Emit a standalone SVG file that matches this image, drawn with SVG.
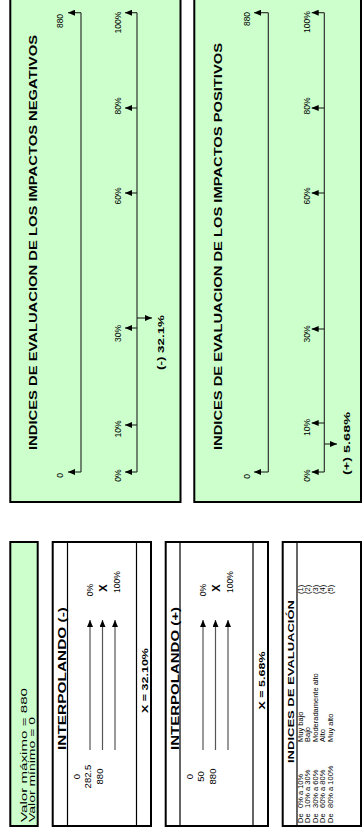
<svg xmlns="http://www.w3.org/2000/svg" width="363" height="828" viewBox="0 0 363 828">
<defs>
<marker id="ah" markerUnits="userSpaceOnUse" markerWidth="7" markerHeight="6" refX="7" refY="3" orient="auto"><path d="M0,0 L7,3 L0,6 z" fill="#000"/></marker>
<style>
.gbox{fill:#ccffcc;stroke:#000;stroke-width:2}
.wbox{fill:#fff;stroke:#000;stroke-width:2}
.div{stroke:#000;stroke-width:1.2}
.ax{stroke:#222;stroke-width:1.1;fill:none}
.tk{stroke:#222;stroke-width:1.1;fill:none;marker-end:url(#ah)}
.ia{stroke:#555;stroke-width:1.2;fill:none;marker-end:url(#ah)}
text{font-family:"Liberation Sans",Arial,sans-serif;fill:#000}
.ttl{font-size:11.5px;font-weight:bold;text-anchor:middle}
.lbl{font-size:8.5px;text-anchor:middle}
.res{font-size:9.5px;font-weight:bold;text-anchor:middle}
.nm{font-size:9.5px;text-anchor:middle}
.hd{font-size:11px;font-weight:bold;text-anchor:middle}
.row{font-size:7.5px}
</style>
</defs>

<g id="neg">
<rect class="gbox" x="10.3" y="-1" width="170.2" height="503"/>
<text class="ttl" transform="translate(37,242.5) rotate(-90)" textLength="415" lengthAdjust="spacingAndGlyphs">INDICES DE EVALUACION DE LOS IMPACTOS NEGATIVOS</text>
<path class="ax" d="M81,12.7 V472 M137,12.7 V472"/>
<text class="lbl" transform="translate(63,21) rotate(-90)">880</text>
<text class="lbl" transform="translate(63,475.5) rotate(-90)">0</text>
<text class="lbl" transform="translate(121,22.5) rotate(-90)">100%</text>
<text class="lbl" transform="translate(121,106) rotate(-90)">80%</text>
<text class="lbl" transform="translate(121,196) rotate(-90)">60%</text>
<text class="lbl" transform="translate(121,333.5) rotate(-90)">30%</text>
<text class="lbl" transform="translate(121,429) rotate(-90)">10%</text>
<text class="lbl" transform="translate(121,475.5) rotate(-90)">0%</text>
<text class="res" transform="translate(164,342.5) rotate(-90)" textLength="55" lengthAdjust="spacingAndGlyphs">(-) 32.1%</text>
</g>

<g id="pos">
<rect class="gbox" x="194.3" y="-1" width="166.7" height="503"/>
<text class="ttl" transform="translate(221.5,246.5) rotate(-90)" textLength="407" lengthAdjust="spacingAndGlyphs">INDICES DE EVALUACION DE LOS IMPACTOS POSITIVOS</text>
<path class="ax" d="M268.3,12.7 V472 M324.3,12.7 V472"/>
<text class="lbl" transform="translate(250,19) rotate(-90)">880</text>
<text class="lbl" transform="translate(250,476.5) rotate(-90)">0</text>
<text class="lbl" transform="translate(310,22) rotate(-90)">100%</text>
<text class="lbl" transform="translate(310,106) rotate(-90)">80%</text>
<text class="lbl" transform="translate(310,196) rotate(-90)">60%</text>
<text class="lbl" transform="translate(310,334) rotate(-90)">30%</text>
<text class="lbl" transform="translate(310,427.5) rotate(-90)">10%</text>
<text class="lbl" transform="translate(310,475.5) rotate(-90)">0%</text>
<text class="res" transform="translate(350,443.5) rotate(-90)" textLength="63" lengthAdjust="spacingAndGlyphs">(+) 5.68%</text>
</g>

<g id="valor">
<rect class="gbox" x="10.3" y="542" width="27.4" height="284"/>
<text class="nm" style="text-anchor:start" transform="translate(26.5,822) rotate(-90)" textLength="134" lengthAdjust="spacingAndGlyphs">Valor máximo = 880</text>
<text class="nm" style="text-anchor:start" transform="translate(35.3,822) rotate(-90)" textLength="105" lengthAdjust="spacingAndGlyphs">Valor mínimo = 0</text>
</g>

<g id="interp-neg">
<rect class="wbox" x="52.7" y="542" width="98.3" height="284"/>
<path class="div" d="M67.5,542 V826 M136.5,542 V826"/>
<text class="hd" transform="translate(65.5,678.5) rotate(-90)" textLength="143" lengthAdjust="spacingAndGlyphs">INTERPOLANDO (-)</text>
<text class="nm" transform="translate(79.5,776.5) rotate(-90)">0</text>
<text class="nm" transform="translate(90.5,776.5) rotate(-90)">282.5</text>
<text class="nm" transform="translate(102.5,776.5) rotate(-90)">880</text>
<text class="lbl" transform="translate(93,590) rotate(-90)">0%</text>
<text class="res" style="font-size:11px" transform="translate(106.5,588) rotate(-90)">X</text>
<text class="lbl" transform="translate(119.5,582) rotate(-90)">100%</text>
<text class="res" transform="translate(148,680.5) rotate(-90)" textLength="65" lengthAdjust="spacingAndGlyphs">X = 32.10%</text>
</g>

<g id="interp-pos">
<rect class="wbox" x="165.7" y="542" width="102.3" height="284"/>
<path class="div" d="M180,542 V826 M253,542 V826"/>
<text class="hd" transform="translate(178.5,678.5) rotate(-90)" textLength="143" lengthAdjust="spacingAndGlyphs">INTERPOLANDO (+)</text>
<text class="nm" transform="translate(192.5,776.5) rotate(-90)">0</text>
<text class="nm" transform="translate(203.5,776.5) rotate(-90)">50</text>
<text class="nm" transform="translate(215.5,776.5) rotate(-90)">880</text>
<text class="lbl" transform="translate(206,590) rotate(-90)">0%</text>
<text class="res" style="font-size:11px" transform="translate(219.5,588) rotate(-90)">X</text>
<text class="lbl" transform="translate(232.5,582) rotate(-90)">100%</text>
<text class="res" transform="translate(264.5,680.5) rotate(-90)" textLength="58" lengthAdjust="spacingAndGlyphs">X = 5.68%</text>
</g>

<g id="indices">
<rect class="wbox" x="282.7" y="542" width="78.3" height="284"/>
<path class="div" d="M297,542 V826"/>
<text class="res" transform="translate(294,681.5) rotate(-90)" textLength="163" lengthAdjust="spacingAndGlyphs">INDICES DE EVALUACIÓN</text>
<g class="row">
<text transform="translate(302.5,823) rotate(-90)">De</text>
<text transform="translate(302.5,808) rotate(-90)">0% a 10%</text>
<text transform="translate(302.5,742) rotate(-90)">Muy bajo</text>
<text transform="translate(302.5,594) rotate(-90)">(1)</text>
<text transform="translate(310,823) rotate(-90)">De</text>
<text transform="translate(310,808) rotate(-90)">10% a 30%</text>
<text transform="translate(310,742) rotate(-90)">Bajo</text>
<text transform="translate(310,594) rotate(-90)">(2)</text>
<text transform="translate(317.5,823) rotate(-90)">De</text>
<text transform="translate(317.5,808) rotate(-90)">30% a 60%</text>
<text transform="translate(317.5,742) rotate(-90)">Moderadamente alto</text>
<text transform="translate(317.5,594) rotate(-90)">(3)</text>
<text transform="translate(325,823) rotate(-90)">De</text>
<text transform="translate(325,808) rotate(-90)">60% a 80%</text>
<text transform="translate(325,742) rotate(-90)">Alto</text>
<text transform="translate(325,594) rotate(-90)">(4)</text>
<text transform="translate(332.5,823) rotate(-90)">De</text>
<text transform="translate(332.5,808) rotate(-90)">80% a 100%</text>
<text transform="translate(332.5,742) rotate(-90)">Muy alto</text>
<text transform="translate(332.5,594) rotate(-90)">(5)</text>
</g>
</g>

<g id="connectors">
<path class="tk" d="M81,12.7 H68"/>
<path class="tk" d="M81,472 H68"/>
<path class="tk" d="M137,12.7 H125"/>
<path class="tk" d="M137,108 H125"/>
<path class="tk" d="M137,193 H125"/>
<path class="tk" d="M137,328 H125"/>
<path class="tk" d="M137,425 H125"/>
<path class="tk" d="M137,472 H125"/>
<path class="tk" d="M137,318 H152"/>
<path class="tk" d="M268.3,12.7 H254"/>
<path class="tk" d="M268.3,472 H254"/>
<path class="tk" d="M324.3,12.7 H311.7"/>
<path class="tk" d="M324.3,108 H311.7"/>
<path class="tk" d="M324.3,193 H311.7"/>
<path class="tk" d="M324.3,329 H311.7"/>
<path class="tk" d="M324.3,423 H311.7"/>
<path class="tk" d="M324.3,472 H311.7"/>
<path class="tk" d="M324.3,444 H337"/>
<path class="ia" d="M90,750 V620"/>
<path class="ia" d="M102.5,750 V620"/>
<path class="ia" d="M115,750 V620"/>
<path class="ia" d="M203,750 V620"/>
<path class="ia" d="M215.5,750 V620"/>
<path class="ia" d="M228,750 V620"/>
</g>
</svg>
